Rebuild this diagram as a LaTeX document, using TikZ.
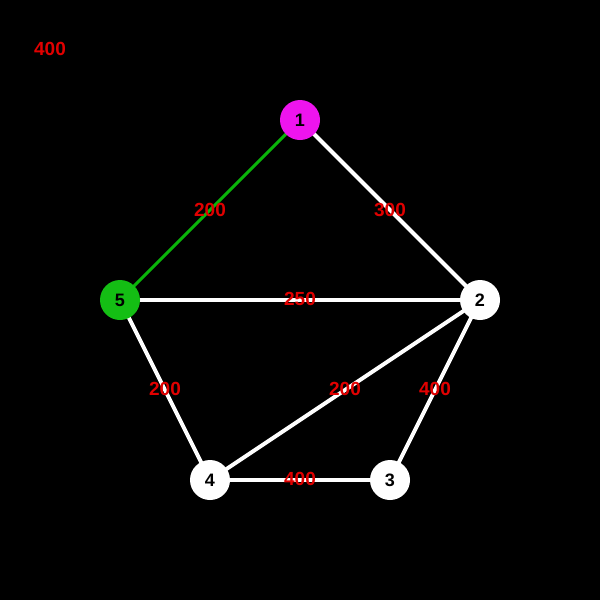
\documentclass[tikz,border=0pt]{standalone}
\usepackage{fontspec}
\setmainfont{Liberation Sans}
\definecolor{nodemag}{RGB}{238,20,238}
\definecolor{nodegreen}{RGB}{20,190,20}
\definecolor{edgegreen}{RGB}{10,180,10}
\definecolor{labred}{RGB}{225,0,0}
\begin{document}
\begin{tikzpicture}[x=1pt,y=-1pt,
  vert/.style={circle,minimum size=40pt,inner sep=0pt,draw=none,font=\fontsize{18}{18}\selectfont\bfseries,text=black},
  edge/.style={line width=4pt,white},
  gedge/.style={line width=3pt,edgegreen},
  wlab/.style={font=\fontsize{19}{19}\selectfont\bfseries,text=labred,inner sep=0pt}]
\fill[black] (0,0) rectangle (600,600);
\useasboundingbox (0,0) rectangle (600,600);
\coordinate (n1) at (300,120);
\coordinate (n2) at (480,300);
\coordinate (n3) at (390,480);
\coordinate (n4) at (210,480);
\coordinate (n5) at (120,300);
\draw[gedge] (n1) -- (n5);
\draw[edge] (n1) -- (n2);
\draw[edge] (n5) -- (n2);
\draw[edge] (n5) -- (n4);
\draw[edge] (n2) -- (n4);
\draw[edge] (n2) -- (n3);
\draw[edge] (n4) -- (n3);
\node[vert,fill=nodemag] (v1) at (n1) {1};
\node[vert,fill=white] (v2) at (n2) {2};
\node[vert,fill=white] (v3) at (n3) {3};
\node[vert,fill=white] (v4) at (n4) {4};
\node[vert,fill=nodegreen] (v5) at (n5) {5};
\node[wlab] (l15) at (210,210) {200};
\node[wlab] (l12) at (390,210) {300};
\node[wlab] (l52) at (300,299) {250};
\node[wlab] (l54) at (165,389) {200};
\node[wlab] (l24) at (345,389) {200};
\node[wlab] (l23) at (435,389) {400};
\node[wlab] (l43) at (300,479) {400};
\node[wlab] (top) at (50,49) {400};
\end{tikzpicture}
\end{document}
